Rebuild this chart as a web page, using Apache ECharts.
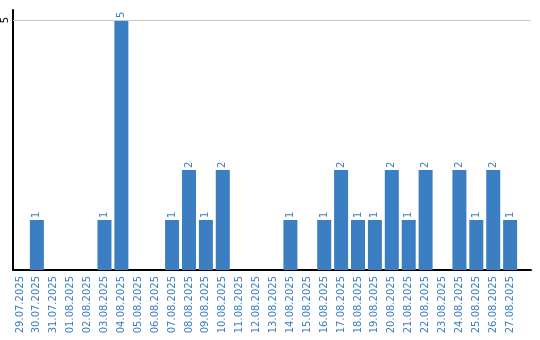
<!DOCTYPE html>
<html><head><meta charset="utf-8">
<script src="https://cdn.jsdelivr.net/npm/echarts@6/dist/echarts.min.js"></script>
<style>html,body{margin:0;padding:0;background:#fff}#c{width:540px;height:340px}</style>
</head><body><div id="c"></div>
<script>
const dates = ['29.07.2025','30.07.2025','31.07.2025','01.08.2025','02.08.2025','03.08.2025','04.08.2025','05.08.2025','06.08.2025','07.08.2025','08.08.2025','09.08.2025','10.08.2025','11.08.2025','12.08.2025','13.08.2025','14.08.2025','15.08.2025','16.08.2025','17.08.2025','18.08.2025','19.08.2025','20.08.2025','21.08.2025','22.08.2025','23.08.2025','24.08.2025','25.08.2025','26.08.2025','27.08.2025'];
const counts = [0,1,0,0,0,1,5,0,0,1,2,1,2,0,0,0,1,0,1,2,1,1,2,1,2,0,2,1,2,1];
const yTicks = [5];

const blue = '#3b7ec2';
const font = 'DejaVu Sans';
const chart = echarts.init(document.getElementById('c'), null, {renderer:'canvas'});
chart.setOption({
  animation: false,
  grid: {left: 10, right: 9, top: 10, bottom: 70, containLabel: false},
  xAxis: {
    type: 'value', min: -7/17, max: 521/17 - 7/17,
    axisLine: {show: true, onZero: false, lineStyle: {color: '#000', width: 2}},
    axisTick: {show: false},
    splitLine: {show: false},
    axisLabel: {
      rotate: 90, margin: 6, color: blue, fontFamily: font, fontSize: 10,
      customValues: dates.map((d, i) => i),
      formatter: v => (Number.isInteger(v) && dates[v]) ? dates[v] : ''
    }
  },
  yAxis: {
    type: 'value', min: 0, max: 5.2, interval: 5,
    axisLine: {show: true, onZero: false, lineStyle: {color: '#000', width: 2}},
    axisTick: {show: false},
    splitLine: {show: false},
    axisLabel: {
      rotate: 90, margin: 3, color: '#000', fontFamily: font, fontSize: 10,
      customValues: yTicks,
      formatter: v => yTicks.includes(v) ? String(v) : ''
    }
  },
  series: [{
    type: 'bar', barWidth: 14,
    data: counts.map((v, i) => [i, v]),
    itemStyle: {color: blue},
    label: {
      show: true, position: 'top', rotate: 90, distance: 2,
      align: 'left', verticalAlign: 'middle',
      color: blue, fontFamily: font, fontSize: 10,
      formatter: p => p.value[1] ? String(p.value[1]) : ''
    },
    markLine: {
      silent: true, symbol: ['none','none'],
      label: {show: false},
      lineStyle: {color: '#c8c8c8', width: 1, type: 'solid'},
      data: yTicks.map(t => ({yAxis: t}))
    }
  }]
});
</script></body></html>
